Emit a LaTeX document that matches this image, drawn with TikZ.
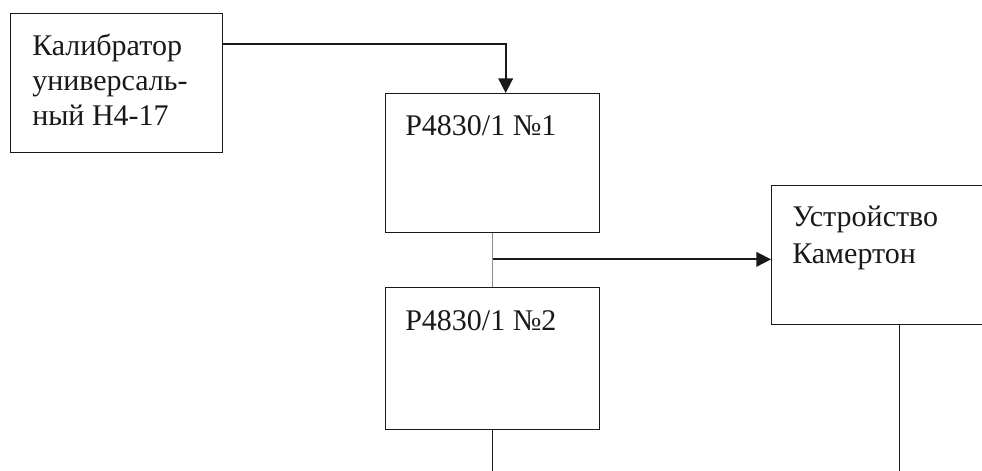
\documentclass[tikz,border=0pt]{standalone}
\usepackage{fontspec}
\setmainfont{Liberation Serif}
\usetikzlibrary{arrows.meta,positioning,calc}
\definecolor{linegray}{RGB}{140,140,140}
\definecolor{inkblack}{RGB}{25,25,25}

\begin{document}
\begin{tikzpicture}[x=0.75pt,y=-0.75pt,
    box/.style={draw=inkblack, line width=1pt, anchor=north west, inner sep=0pt},
    txt/.style={anchor=base west, align=left, inner sep=0pt, text=inkblack,
      font=\fontsize{22.5}{27.75}\selectfont},
    arr/.style={draw=inkblack, line width=1.3pt, -{Triangle[length=11pt,width=11pt]}}]
    \useasboundingbox (0,0) rectangle (982,471);
    % blocks
    \node[box, minimum width=159pt, minimum height=104.25pt] (cal) at (10,13) {};
    \node[box, minimum width=160.5pt, minimum height=104.25pt] (p1) at (385,93) {};
    \node[box, minimum width=160.5pt, minimum height=106.5pt] (p2) at (385,287) {};
    \node[box, minimum width=192pt, minimum height=104.25pt] (cam) at (771,185) {};
    % labels (base = last line)
    \node[txt, font=\fontsize{22.5}{26.25}\selectfont] (calt) at ([shift={(16.5pt,-84pt)}]cal.north west) {Калибратор\\универсаль-\\ный Н4-17};
    \node[txt] (p1t) at ([shift={(15pt,-31.5pt)}]p1.north west) {Р4830/1 №1};
    \node[txt] (p2t) at ([shift={(15pt,-32.25pt)}]p2.north west) {Р4830/1 №2};
    \node[txt] (camt) at ([shift={(15.75pt,-58.5pt)}]cam.north west) {Устройство\\Камертон};
    % connections
    \coordinate (split) at ([yshift=-19.5pt]p1.south);
    \coordinate (p2end) at (p2.south |- 0,471);
    \coordinate (camend) at (cam.south |- 0,471);
    \draw[arr] ([yshift=-23.25pt]cal.north east) -| ([xshift=9.75pt]p1.north);
    \draw[linegray, line width=0.7pt] (p1.south) -- (p2.north);
    \draw[arr] (split) -- (split -| cam.west);
    \draw[inkblack, line width=1pt] (p2.south) -- (p2end);
    \draw[inkblack, line width=1pt] (cam.south) -- (camend);
\end{tikzpicture}
\end{document}
